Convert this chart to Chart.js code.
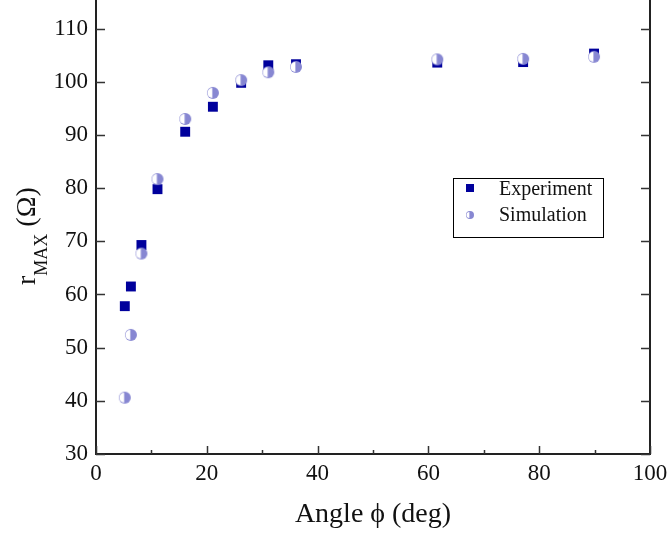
<!DOCTYPE html>
<html>
<head>
<meta charset="utf-8">
<script src="https://cdn.jsdelivr.net/npm/chart.js@4.4.1/dist/chart.umd.min.js"></script>
<style>
  html, body { margin: 0; padding: 0; background: #fff; }
  #wrap { width: 669px; height: 533px; }
</style>
</head>
<body>
<div id="wrap"><canvas id="chart" width="669" height="533"></canvas></div>
<script>
// data
const angleExp = [5.2, 6.3, 8.2, 11.1, 16.1, 21.1, 26.2, 31.1, 36.1, 61.6, 77.1, 89.9];
const rExp     = [57.8, 61.5, 69.3, 79.8, 90.6, 95.3, 99.8, 103.1, 103.3, 103.6, 103.7, 105.3];
const angleSim = [5.2, 6.3, 8.2, 11.1, 16.1, 21.1, 26.2, 31.1, 36.1, 61.6, 77.1, 89.9];
const rSim     = [40.6, 52.4, 67.7, 81.7, 93.0, 97.9, 100.3, 101.8, 102.8, 104.2, 104.3, 104.7];

const xLabels = [0, 20, 40, 60, 80, 100];
const yLabels = [30, 40, 50, 60, 70, 80, 90, 100, 110];

const EXP_COLOR = "#00009c";
const SIM_COLOR = "#8787d2";
const SERIF = '"Liberation Serif", "DejaVu Serif", serif';

// half filled circle (left half white)
function halfCircle(d, color) {
  const c = document.createElement("canvas");
  c.width = c.height = d + 2;
  const g = c.getContext("2d");
  const r = d / 2, cx = r + 1, cy = r + 1;
  g.fillStyle = color;
  g.beginPath(); g.arc(cx, cy, r, 0, Math.PI * 2); g.fill();
  g.fillStyle = "#fff";
  g.beginPath(); g.arc(cx - 0.6, cy, r - 1.1, Math.PI / 2, Math.PI * 1.5); g.closePath(); g.fill();
  return c;
}
const simPoint = halfCircle(12, SIM_COLOR);
const simLegend = halfCircle(8, SIM_COLOR);

function toXY(xs, ys) {
  return xs.map((x, i) => ({ x, y: ys[i] }));
}

// axes frame, inward ticks, titles, legend
const frame = {
  id: "frame",
  afterDraw(chart) {
    const { ctx, chartArea: a, scales: { x, y } } = chart;
    ctx.save();
    ctx.strokeStyle = "#222";
    ctx.lineWidth = 2;
    ctx.beginPath();
    ctx.moveTo(a.right, 0);
    ctx.lineTo(a.right, a.bottom + 1);
    ctx.stroke();
    ctx.beginPath();
    ctx.moveTo(a.left, 0);
    ctx.lineTo(a.left, a.top);
    ctx.stroke();

    ctx.strokeStyle = "#333";
    ctx.lineWidth = 1.5;
    ctx.beginPath();
    for (const t of y.ticks) {
      const py = Math.round(y.getPixelForValue(t.value)) + 0.5;
      const len = t.value % 10 === 0 ? 9 : 5;
      ctx.moveTo(a.left, py); ctx.lineTo(a.left + len, py);
      ctx.moveTo(a.right, py); ctx.lineTo(a.right - len, py);
    }
    for (const t of x.ticks) {
      const px = Math.round(x.getPixelForValue(t.value)) + 0.5;
      const len = t.value % 20 === 0 ? 8 : 4;
      ctx.moveTo(px, a.bottom); ctx.lineTo(px, a.bottom - len);
    }
    ctx.stroke();

    // x title
    ctx.fillStyle = "#111";
    ctx.font = "28px " + SERIF;
    ctx.textAlign = "center";
    ctx.textBaseline = "alphabetic";
    ctx.fillText("Angle \u03D5 (deg)", (a.left + a.right) / 2, 522);

    // y title with subscript
    ctx.save();
    ctx.translate(35, 285);
    ctx.rotate(-Math.PI / 2);
    ctx.textAlign = "left";
    ctx.font = "28px " + SERIF;
    ctx.fillText("r", 0, 0);
    let w = ctx.measureText("r").width;
    ctx.font = "18px " + SERIF;
    ctx.fillText("MAX", w, 12);
    w += ctx.measureText("MAX").width;
    ctx.font = "28px " + SERIF;
    ctx.fillText(" (\u03A9)", w, 0);
    ctx.restore();

    // legend
    ctx.strokeStyle = "#000";
    ctx.lineWidth = 1;
    ctx.strokeRect(453.5, 178.5, 150, 59);
    ctx.fillStyle = EXP_COLOR;
    ctx.fillRect(466, 184, 8, 8);
    ctx.drawImage(simLegend, 470 - simLegend.width / 2, 215 - simLegend.height / 2);
    ctx.fillStyle = "#111";
    ctx.font = "20px " + SERIF;
    ctx.textAlign = "left";
    ctx.fillText("Experiment", 499, 195);
    ctx.fillText("Simulation", 499, 221);
    ctx.restore();
  }
};

new Chart(document.getElementById("chart"), {
  type: "scatter",
  data: {
    datasets: [
      {
        label: "Experiment",
        data: toXY(angleExp, rExp),
        pointStyle: "rect",
        pointRadius: 7,
        pointHoverRadius: 7,
        backgroundColor: EXP_COLOR,
        borderColor: EXP_COLOR,
        borderWidth: 0,
        order: 2
      },
      {
        label: "Simulation",
        data: toXY(angleSim, rSim),
        pointStyle: simPoint,
        pointRadius: 6,
        order: 1
      }
    ]
  },
  options: {
    responsive: false,
    animation: false,
    layout: { autoPadding: false, padding: { top: 2, right: 19, left: 0, bottom: 0 } },
    plugins: { legend: { display: false }, tooltip: { enabled: false } },
    scales: {
      x: {
        type: "linear",
        min: 0, max: 100,
        afterFit: s => { s.height = 79; s.paddingLeft = 0; s.paddingRight = 0; },
        grid: { display: false, drawTicks: false },
        border: { display: true, color: "#222", width: 2 },
        ticks: {
          stepSize: 10,
          padding: 6,
          color: "#111",
          font: { family: SERIF, size: 23 },
          callback: v => xLabels.includes(v) ? String(v) : ""
        }
      },
      y: {
        type: "linear",
        min: 30, max: 115,
        afterFit: s => { s.width = 96; s.paddingTop = 0; s.paddingBottom = 0; },
        grid: { display: false, drawTicks: false },
        border: { display: true, color: "#222", width: 2 },
        ticks: {
          stepSize: 5,
          padding: 8,
          color: "#111",
          font: { family: SERIF, size: 23 },
          callback: v => yLabels.includes(v) ? String(v) : ""
        }
      }
    }
  },
  plugins: [frame]
});
</script>
</body>
</html>
